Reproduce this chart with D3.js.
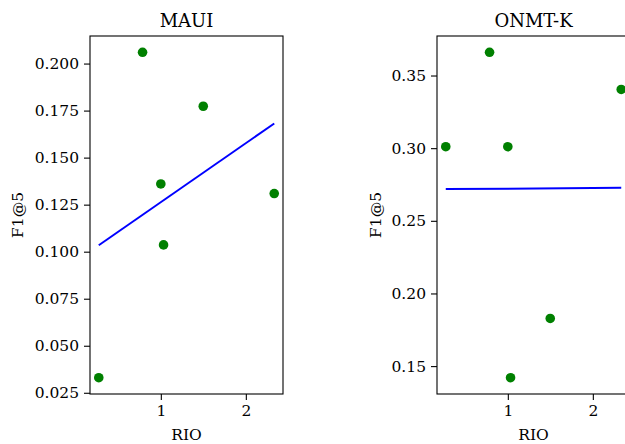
<!DOCTYPE html>
<html>
<head>
<meta charset="utf-8">
<script src="https://cdn.jsdelivr.net/npm/d3@7"></script>
<style>
  body { margin: 0; background: #fff; }
  svg { display: block; }
  text { font-family: "DejaVu Serif", serif; fill: #000; }
</style>
</head>
<body>
<svg width="625" height="444"></svg>
<script>
// RIO values shared by both panels
const rio = [0.27, 0.785, 1.0, 1.032, 1.499, 2.334];
const mauiF1 = [0.033, 0.206, 0.136, 0.1036, 0.1773, 0.1309];
const onmtF1 = [0.301, 0.366, 0.301, 0.142, 0.1828, 0.3404];
const xTicks = [1, 2];
const mauiTicks = [0.025, 0.05, 0.075, 0.1, 0.125, 0.15, 0.175, 0.2];
const onmtTicks = [0.15, 0.2, 0.25, 0.3, 0.35];

const svg = d3.select("svg");
const plotTop = 36, plotBottom = 394, plotW = 193;

function padded(vals) {
  const lo = d3.min(vals), hi = d3.max(vals), m = (hi - lo) * 0.05;
  return [lo - m, hi + m];
}

// least squares fit
function fit(xs, ys) {
  const mx = d3.mean(xs), my = d3.mean(ys);
  const num = d3.sum(xs, (x, i) => (x - mx) * (ys[i] - my));
  const den = d3.sum(xs, x => (x - mx) * (x - mx));
  const b = num / den;
  return x => my + b * (x - mx);
}

function panel(left, title, ys, yTicks, fmt, ylabelX) {
  const x = d3.scaleLinear().domain(padded(rio)).range([left, left + plotW]);
  const y = d3.scaleLinear().domain(padded(ys)).range([plotBottom, plotTop]);
  const g = svg.append("g");

  const yAxis = g.append("g")
    .attr("transform", "translate(" + left + ",0)")
    .call(d3.axisLeft(y).tickValues(yTicks).tickFormat(d3.format(fmt))
      .tickSize(6).tickPadding(5).tickSizeOuter(0));
  const xAxis = g.append("g")
    .attr("transform", "translate(0," + plotBottom + ")")
    .call(d3.axisBottom(x).tickValues(xTicks).tickFormat(d3.format("d"))
      .tickSize(6).tickPadding(5).tickSizeOuter(0));
  [yAxis, xAxis].forEach(a => {
    a.select(".domain").remove();
    a.selectAll("line").attr("stroke", "#000").attr("stroke-width", 1.1);
    a.selectAll("text").attr("font-family", "DejaVu Serif")
      .attr("font-size", "15.5px").attr("fill", "#000");
  });

  // frame
  g.append("rect")
    .attr("x", left).attr("y", plotTop)
    .attr("width", plotW).attr("height", plotBottom - plotTop)
    .attr("fill", "none").attr("stroke", "#000").attr("stroke-width", 1.1);

  const f = fit(rio, ys);
  const xr = d3.extent(rio);
  g.append("path")
    .datum(xr)
    .attr("d", d3.line().x(d => x(d)).y(d => y(f(d))))
    .attr("fill", "none").attr("stroke", "#0000ff").attr("stroke-width", 2);

  g.selectAll(".dot")
    .data(rio.map((r, i) => ({ r: r, v: ys[i] })))
    .enter()
    .append("circle")
    .attr("class", "dot")
    .attr("cx", d => x(d.r))
    .attr("cy", d => y(d.v))
    .attr("r", 4.8)
    .attr("fill", "#008000");

  g.append("text")
    .attr("x", left + plotW / 2).attr("y", 27)
    .attr("text-anchor", "middle").attr("font-size", "18px")
    .text(title);

  g.append("text")
    .attr("x", left + plotW / 2).attr("y", 440)
    .attr("text-anchor", "middle").attr("font-size", "15.5px")
    .text("RIO");

  g.append("text")
    .attr("transform", "translate(" + ylabelX + "," + (plotTop + plotBottom) / 2 + ") rotate(-90)")
    .attr("text-anchor", "middle").attr("font-size", "15.5px")
    .text("F1@5");
}

panel(90, "MAUI", mauiF1, mauiTicks, ".3f", 23);
panel(437, "ONMT-K", onmtF1, onmtTicks, ".2f", 381);
</script>
</body>
</html>
